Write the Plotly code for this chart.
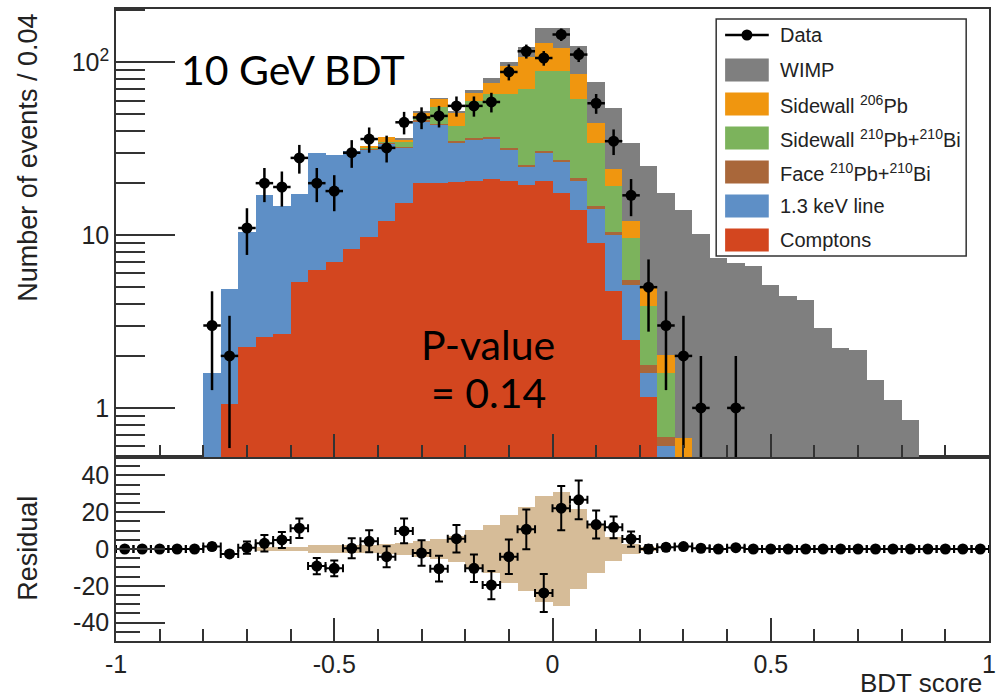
import math
import plotly.graph_objects as go

# ---------------- data ----------------
bin_lo = -1.0
bin_width = 0.04
n_bins = 50
centers = [round(bin_lo + bin_width * (i + 0.5), 4) for i in range(n_bins)]

# stacked background / signal components (events per bin)
comptons = [0, 0, 0, 0, 0, 0.3, 1.05, 2.24, 2.59, 2.67,
            5.33, 6.25, 7.0, 8.3, 9.8, 12.0, 15.4, 20.0, 20.0, 20.2,
            20.5, 21.2, 20.5, 19.6, 20.5, 17.6, 14.0, 9.0, 4.72, 2.48,
            1.16, 0, 0, 0, 0, 0, 0, 0, 0, 0,
            0, 0, 0, 0, 0, 0, 0, 0, 0, 0]
line13 = [0, 0, 0, 0, 0, 1.29, 3.83, 8.26, 14.6, 12.0,
          11.9, 23.6, 22.3, 22.3, 21.6, 21.9, 16.6, 25.7, 23.7, 14.2,
          15.3, 14.7, 10.8, 5.4, 9.5, 9.2, 6.5, 5.2, 5.35, 2.68,
          0.43, 0.60, 0.15, 0, 0, 0, 0, 0, 0, 0,
          0, 0, 0, 0, 0, 0, 0, 0, 0, 0]
face210 = [0, 0, 0, 0, 0, 0, 0, 0, 0, 0,
           0, 0, 0, 0, 0.2, 0.3, 0.3, 0.4, 0.5, 0.5,
           0.8, 1.2, 0.7, 0.6, 0.9, 0.6, 1.0, 0.5, 0.43, 0.37,
           0.18, 0.08, 0.02, 0, 0, 0, 0, 0, 0, 0,
           0, 0, 0, 0, 0, 0, 0, 0, 0, 0]
side210 = [0, 0, 0, 0, 0, 0, 0, 0, 0, 0,
           0, 0, 0, 0, 0.4, 0.6, 2.1, 1.4, 11.1, 7.7,
           23.1, 28.1, 33.2, 44.8, 58.2, 61.7, 39.5, 19.5, 8.7, 4.1,
           2.1, 0.91, 0.30, 0, 0, 0, 0, 0, 0, 0,
           0, 0, 0, 0, 0, 0, 0, 0, 0, 0]
side206 = [0, 0, 0, 0, 0, 0, 0, 0, 0, 0,
           0, 0, 0, 0, 0.6, 2.1, 1.6, 4.0, 6.3, 8.5,
           7.0, 11.1, 30.1, 37.0, 40.9, 32.5, 24.2, 10.5, 4.8, 2.4,
           1.07, 0.44, 0.20, 0, 0, 0, 0, 0, 0, 0,
           0, 0, 0, 0, 0, 0, 0, 0, 0, 0]
wimp = [0, 0, 0, 0, 0, 0, 0, 0, 0, 0,
        0, 0, 0, 0, 0, 0, 0.3, 0.5, 0.4, 1.1,
        2.4, 5.2, 5.1, 15.3, 27.5, 35.9, 39.2, 32.2, 30.6, 22.2,
        20.1, 15.6, 13.4, 10.1, 7.4, 6.9, 6.6, 5.16, 4.46, 4.22,
        2.91, 2.23, 2.17, 1.45, 1.11, 0.85, 0, 0, 0, 0]

# observed counts per bin
data_counts = [0, 0, 0, 0, 0, 3, 2, 11, 20, 19,
               28, 20, 18, 30, 36, 32, 45, 48, 49, 56,
               56, 59, 88, 116, 106, 145, 111, 58, 35, 17,
               5, 3, 2, 1, 0, 1, 0, 0, 0, 0,
               0, 0, 0, 0, 0, 0, 0, 0, 0, 0]

# residual panel
residual = [0, 0, 0, 0, 0, 1.3, -2.7, 0.7, 3.1, 4.9,
            11.3, -9.3, -10.5, 0.4, 4.2, -4.2, 9.8, -2.2, -10.7, 5.6,
            -10.5, -19.6, -4.2, 10.7, -23.9, 22.2, 26.7, 13.3, 11.8, 5.4,
            0, 0.9, 1.3, 0.4, 0, 0.7, 0, 0, 0, 0,
            0, 0, 0, 0, 0, 0, 0, 0, 0, 0]
band_halfwidth = [0, 0, 0, 0, 0, 0, 0, 0, 1.2, 1.2,
                  1.2, 2.0, 2.0, 2.0, 2.2, 2.5, 3.0, 4.5, 5.2, 6.8,
                  10.5, 13.0, 18.5, 23.0, 29.0, 31.0, 21.5, 13.0, 6.3, 2.8,
                  1.0, 0, 0, 0, 0, 0, 0, 0, 0, 0,
                  0, 0, 0, 0, 0, 0, 0, 0, 0, 0]

x_tickvals = [-1, -0.5, 0, 0.5, 1]
x_ticktext = ["-1", "-0.5", "0", "0.5", "1"]
y_tickvals = [1, 10, 100]
y_ticktext = ["1", "10", "10<sup>2</sup>"]
r_tickvals = [-40, -20, 0, 20, 40]
r_ticktext = ["-40", "-20", "0", "20", "40"]

# ---------------- styling ----------------
components = [
    ("Comptons", comptons, "#d3461f"),
    ("1.3 keV line", line13, "#5e8fc6"),
    ("Face <sup>210</sup>Pb+<sup>210</sup>Bi", face210, "#a9673a"),
    ("Sidewall <sup>210</sup>Pb+<sup>210</sup>Bi", side210, "#7cb35c"),
    ("Sidewall <sup>206</sup>Pb", side206, "#f0960f"),
    ("WIMP", wimp, "#7f7f7f"),
]
AXC = "#333333"
FONT = "Liberation Sans"

fig = go.Figure()

for name, vals, col in components:
    fig.add_trace(go.Bar(x=centers, y=vals, width=bin_width, name=name,
                         marker=dict(color=col, line=dict(width=0)),
                         xaxis="x2", yaxis="y", showlegend=False))

data_y = [d if d > 0 else None for d in data_counts]
data_err = [math.sqrt(d) for d in data_counts]
fig.add_trace(go.Scatter(x=centers, y=data_y, mode="markers", name="Data",
                         marker=dict(color="black", size=11),
                         error_y=dict(type="data", array=data_err, color="black",
                                      thickness=2.5, width=0),
                         error_x=dict(type="constant", value=bin_width / 2,
                                      color="black", thickness=2.5, width=0),
                         xaxis="x2", yaxis="y", showlegend=False))

# residual band
fig.add_trace(go.Bar(x=centers, y=[2 * b for b in band_halfwidth],
                     base=[-b for b in band_halfwidth], width=bin_width,
                     marker=dict(color="#d6bc98", line=dict(width=0)),
                     xaxis="x", yaxis="y2", showlegend=False))
fig.add_trace(go.Scatter(x=centers, y=residual, mode="markers",
                         marker=dict(color="black", size=11),
                         error_y=dict(type="data", array=data_err, color="black",
                                      thickness=2, width=4),
                         error_x=dict(type="constant", value=bin_width / 2,
                                      color="black", thickness=2, width=4),
                         xaxis="x", yaxis="y2", showlegend=False))

# ---------------- layout ----------------
L, R, T, B = 116, 996, 9, 641
W, H = 1003, 698
pw, ph = R - L, B - T
split = (B - 457) / ph


def px_x(px):
    return (px - L) / pw


def px_y(py):
    return (B - py) / ph


tickfont = dict(family=FONT, size=25, color="#222")
common_x = dict(range=[-1, 1], showgrid=False, zeroline=False, showline=True,
                linecolor=AXC, linewidth=1.5, mirror=True,
                ticks="inside", ticklen=23, tickwidth=1.5, tickcolor=AXC,
                tickvals=x_tickvals,
                minor=dict(ticks="inside", ticklen=12, tickwidth=1.5,
                           tickcolor=AXC, dtick=0.1, tick0=0, showgrid=False))

fig.update_layout(
    width=W, height=H,
    margin=dict(l=L, r=W - R, t=T, b=H - B, pad=0),
    paper_bgcolor="white", plot_bgcolor="white",
    barmode="stack", bargap=0, showlegend=False,
    font=dict(family=FONT, color="#222"),
    xaxis=dict(domain=[0, 1], anchor="y2", ticktext=x_ticktext,
               tickfont=tickfont, **common_x),
    xaxis2=dict(domain=[0, 1], anchor="y", matches="x",
                showticklabels=False, **common_x),
    yaxis=dict(domain=[split, 1], anchor="x2", type="log",
               range=[-0.284, 2.309], showgrid=False, zeroline=False,
               showline=True, linecolor=AXC, linewidth=1.5, mirror=True,
               ticks="inside", ticklen=59, tickwidth=1.5, tickcolor=AXC,
               tickvals=y_tickvals, ticktext=y_ticktext, tickfont=tickfont,
               minor=dict(ticks="inside", ticklen=29, tickwidth=1.5,
                          tickcolor=AXC, showgrid=False,
                          tickvals=[0.6, 0.7, 0.8, 0.9, 2, 3, 4, 5, 6, 7, 8, 9,
                                    20, 30, 40, 50, 60, 70, 80, 90, 200])),
    yaxis2=dict(domain=[0, split], anchor="x", range=[-50, 50],
                showgrid=False, zeroline=False, showline=True,
                linecolor=AXC, linewidth=1.5, mirror=True,
                ticks="inside", ticklen=49, tickwidth=1.5, tickcolor=AXC,
                tickvals=r_tickvals, ticktext=r_ticktext, tickfont=tickfont,
                minor=dict(ticks="inside", ticklen=24, tickwidth=1.5,
                           tickcolor=AXC, dtick=5, tick0=0, showgrid=False)),
)

annotations = [
    dict(text="Number of events / 0.04", x=px_x(27), y=px_y(158), textangle=-90,
         font=dict(family=FONT, size=27, color="#222")),
    dict(text="Residual", x=px_x(27), y=px_y(548), textangle=-90,
         font=dict(family=FONT, size=27, color="#222")),
    dict(text="BDT score", x=px_x(991), y=px_y(683), xanchor="right",
         font=dict(family=FONT, size=26, color="#222")),
    dict(text="10 GeV BDT", x=px_x(294), y=px_y(70),
         font=dict(family="Lato", size=41, color="black")),
    dict(text="P-value", x=px_x(491), y=px_y(345),
         font=dict(family="Lato", size=41, color="black")),
    dict(text="= 0.14", x=px_x(491), y=px_y(392),
         font=dict(family="Lato", size=41, color="black")),
]

shapes = []
# legend box
shapes.append(dict(type="rect", xref="paper", yref="paper",
                   x0=px_x(721), x1=px_x(973), y0=px_y(256), y1=px_y(19),
                   fillcolor="white", line=dict(color=AXC, width=1.5),
                   layer="above"))
rows_y = [35, 70, 104, 138, 172, 206, 240]
sw_x0, sw_x1 = 730, 774
# data entry
shapes.append(dict(type="line", xref="paper", yref="paper",
                   x0=px_x(sw_x0), x1=px_x(sw_x1), y0=px_y(rows_y[0]),
                   y1=px_y(rows_y[0]), line=dict(color="black", width=2.5),
                   layer="above"))
cx = (sw_x0 + sw_x1) / 2
shapes.append(dict(type="circle", xref="paper", yref="paper",
                   x0=px_x(cx - 5.5), x1=px_x(cx + 5.5),
                   y0=px_y(rows_y[0] + 5.5), y1=px_y(rows_y[0] - 5.5),
                   fillcolor="black", line=dict(color="black", width=0),
                   layer="above"))
annotations.append(dict(text="Data", x=px_x(783), y=px_y(rows_y[0]),
                        xanchor="left", font=dict(family=FONT, size=20, color="#222")))
legend_order = list(reversed(components))
for k, (name, vals, col) in enumerate(legend_order):
    yc = rows_y[k + 1]
    shapes.append(dict(type="rect", xref="paper", yref="paper",
                       x0=px_x(sw_x0), x1=px_x(sw_x1),
                       y0=px_y(yc + 11.5), y1=px_y(yc - 11.5),
                       fillcolor=col, line=dict(width=0), layer="above"))
    annotations.append(dict(text=name, x=px_x(783), y=px_y(yc), xanchor="left",
                            font=dict(family=FONT, size=20, color="#222")))

for a in annotations:
    a.setdefault("xref", "paper")
    a.setdefault("yref", "paper")
    a.setdefault("showarrow", False)
    a.setdefault("yanchor", "middle")
    a.setdefault("xanchor", "center")

fig.update_layout(annotations=annotations, shapes=shapes)
fig.write_html("out.html",
               config={"displayModeBar": False},
               post_script="document.body.style.margin='0';"
                           "document.body.style.overflow='hidden';")
